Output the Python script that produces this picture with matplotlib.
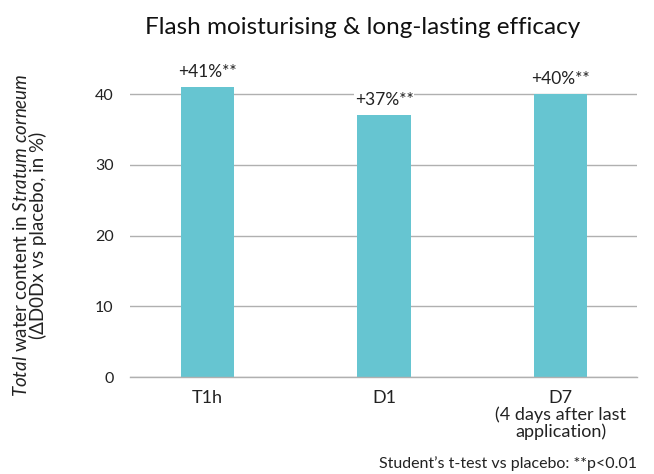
import matplotlib.pyplot as plt

plt.rcParams['font.family'] = ['Lato', 'DejaVu Sans']
plt.rcParams['mathtext.fontset'] = 'custom'
plt.rcParams['mathtext.rm'] = 'Lato'
plt.rcParams['mathtext.it'] = 'Lato:italic'

# Data
categories = ['T1h', 'D1', 'D7\n(4 days after last\napplication)']
values = [41, 37, 40]
value_labels = ['+41%**', '+37%**', '+40%**']
yticks = [0, 10, 20, 30, 40]

bar_color = '#66C5D1'
grid_color = '#b0b0b0'

fig = plt.figure(figsize=(6.54, 4.74), dpi=100)
ax = fig.add_axes([0.199, 0.2046, 0.775, 0.6716])

x = list(range(len(categories)))
bars = ax.bar(x, values, width=0.3, color=bar_color, zorder=2)

for xi, v, lab in zip(x, values, value_labels):
    ax.annotate(lab, (xi, v), xytext=(0, 5), textcoords='offset points',
                ha='center', va='bottom', fontsize=12.5, color='#222222', zorder=4,
                bbox=dict(facecolor='white', edgecolor='none', pad=0.5))

ax.set_xlim(-0.435, 2.43)
ax.set_ylim(0, 45)
ax.set_yticks(yticks)
ax.set_xticks(x)
ax.set_xticklabels(categories, fontsize=13, linespacing=1.05, color='#222222')
ax.tick_params(axis='y', length=0, pad=12, labelsize=11.5, labelcolor='#222222')
ax.tick_params(axis='x', length=0, pad=9)

ax.yaxis.grid(True, color=grid_color, linewidth=1, zorder=0)
ax.set_axisbelow(True)
for s in ['top', 'right', 'left']:
    ax.spines[s].set_visible(False)
ax.spines['bottom'].set_color(grid_color)
ax.spines['bottom'].set_linewidth(1)

ax.set_ylabel('$\\mathit{Total}$ water content in $\\mathit{Stratum\\ corneum}$\n(ΔD0Dx vs placebo, in %)',
              fontsize=13.5, linespacing=0.95, color='#222222')
ax.yaxis.set_label_coords(-0.164, 0.446)

fig.text(0.555, 0.943, 'Flash moisturising & long-lasting efficacy',
         ha='center', va='center', fontsize=17.5, color='#111111')
fig.text(0.974, 0.006, 'Student\u2019s t-test vs placebo: **p<0.01',
         ha='right', va='bottom', fontsize=11.5, color='#222222')

fig.savefig('out.png', dpi=100)
